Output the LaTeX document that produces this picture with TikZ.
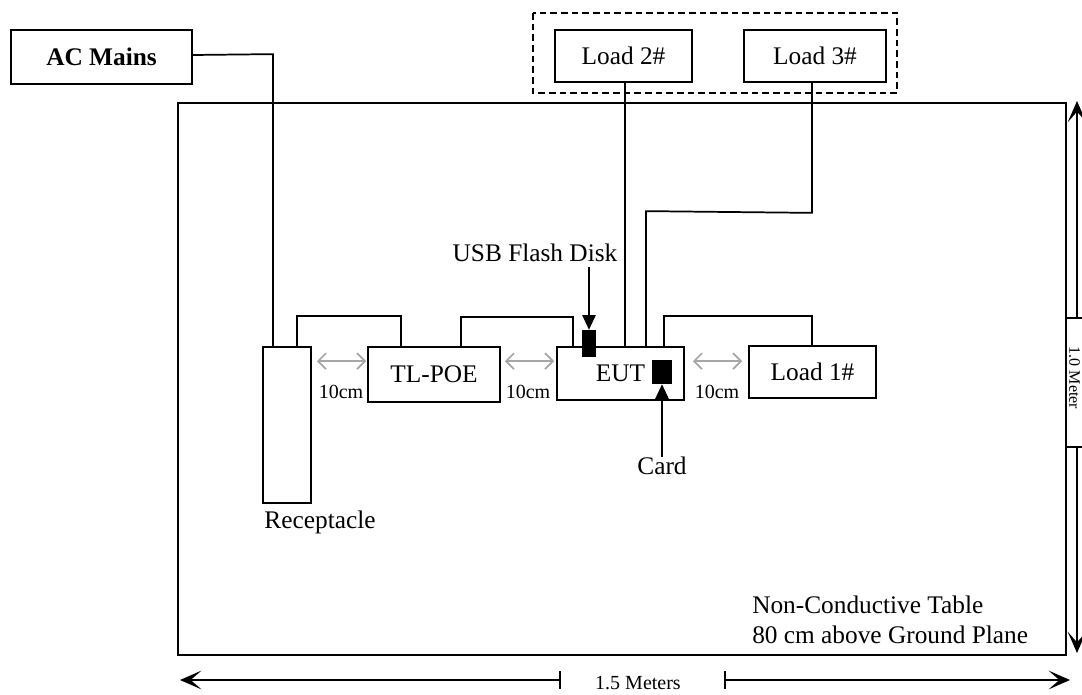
\documentclass[tikz,border=0pt]{standalone}
\usepackage{fontspec}
\setmainfont{Liberation Serif}
\usetikzlibrary{arrows.meta,calc}
\tikzset{
  box/.style={draw, line width=1.3pt, inner sep=0pt, font=\fontsize{19}{22}\selectfont},
  wire/.style={draw, line width=1.3pt},
  garrow/.style={draw=gray!70, line width=1.3pt, {Straight Barb[length=6pt,width=12pt]}-{Straight Barb[length=6pt,width=12pt]}},
  barrow/.style={draw, line width=1.3pt, -{Triangle[length=11pt,width=10pt]}},
  dimarrow/.style={draw, line width=1.3pt, -{Stealth[length=16pt,width=14pt,inset=8pt]}},
  lbl/.style={inner sep=0pt, font=\fontsize{19}{22}\selectfont},
  small/.style={inner sep=0pt, font=\fontsize{15}{17}\selectfont},
}
\begin{document}
\begin{tikzpicture}[x=0.75pt,y=-0.75pt]
\useasboundingbox (0,0) rectangle (1082,695);
% table
\draw[line width=1.4pt] (178,103) rectangle (1066,655);
% dashed group
\draw[line width=1.3pt, dash pattern=on 5pt off 3pt] (533,13) rectangle (897,93);
% boxes
\node[box, minimum width=181*0.75pt, minimum height=54*0.75pt, font=\fontsize{19}{22}\selectfont\bfseries] (ac) at (101.5,57) {AC Mains};
\node[box, minimum width=137*0.75pt, minimum height=52*0.75pt] (load2) at (623.5,56) {Load 2\#};
\node[box, minimum width=142*0.75pt, minimum height=52*0.75pt] (load3) at (815,56) {Load 3\#};
\node[box, minimum width=48*0.75pt, minimum height=156*0.75pt] (rec) at (287,425) {};
\node[box, minimum width=132*0.75pt, minimum height=55*0.75pt] (tlpoe) at (434,374.5) {TL-POE};
\node[box, minimum width=127*0.75pt, minimum height=53*0.75pt] (eut) at (620.5,373.5) {EUT\hspace{10pt}};
\node[box, minimum width=127*0.75pt, minimum height=52*0.75pt] (load1) at (812.5,372) {Load 1\#};
% black blocks
\node[fill=black, inner sep=0pt, minimum width=14*0.75pt, minimum height=27*0.75pt] (usb) at (589,343.5) {};
\node[fill=black, inner sep=0pt, minimum width=20*0.75pt, minimum height=24*0.75pt] (card) at (662,372) {};
% labels
\node[lbl] (usblbl) at (535,253) {USB Flash Disk};
\node[lbl] (cardlbl) at (662,466) {Card};
\node[lbl] (reclbl) at (320,522) {Receptacle};
\node[lbl, anchor=west, align=left, font=\fontsize{19}{22.5}\selectfont] (tbl) at (752,620) {Non-Conductive Table\\80 cm above Ground Plane};
\node[small] (d1) at (341,392) {10cm};
\node[small] (d2) at (528,392) {10cm};
\node[small] (d3) at (717,392) {10cm};
% wires
\draw[wire] ($(ac.east)+(0,-2)$) -- ($(rec.north)+(-14,-292)$) -- ($(rec.north)+(-14,0)$);
\draw[wire] ($(rec.north)+(10,0)$) -- ($(rec.north)+(10,-30)$) -- ($(tlpoe.north)+(-33,-30)$) -- ($(tlpoe.north)+(-33,0)$);
\draw[wire] ($(tlpoe.north)+(27,0)$) -- ($(tlpoe.north)+(27,-29)$) -- ($(eut.north)+(-47.5,-29)$) -- ($(eut.north)+(-47.5,0)$);
\draw[wire] ($(eut.north)+(43.5,0)$) -- ($(eut.north)+(43.5,-30)$) -- ($(load1.north)+(-0.5,-29)$) -- ($(load1.north)+(-0.5,0)$);
\draw[wire] ($(load2.south)+(1.5,0)$) -- ($(eut.north)+(4.5,0)$);
\draw[wire] ($(load3.south)+(-3,0)$) -- ($(load3.south)+(-3,130)$) -- ($(eut.north)+(25.5,-135)$) -- ($(eut.north)+(25.5,0)$);
% gray spacing arrows
\draw[garrow] ($(rec.north east)+(5,15)$) -- ($(tlpoe.north west)+(-1,15)$);
\draw[garrow] ($(tlpoe.north east)+(4,15)$) -- ($(eut.north west)+(-2,15)$);
\draw[garrow] ($(eut.north east)+(8,15)$) -- ($(load1.north west)+(-6,16)$);
% pointer arrows
\draw[barrow] (usb.north |- 0,267) -- (usb.north);
\draw[barrow] (card.south |- cardlbl.north) -- (card.south);
% right dimension
\coordinate (rt) at (1077,101);
\coordinate (rb) at (1077,653);
\draw[dimarrow] (1077,318) -- (rt);
\draw[dimarrow] (1077,447) -- (rb);
\draw[line width=1.3pt] (1084,318) -- (1066,318) -- (1066,447) -- (1084,447);
\node[inner sep=0pt, rotate=-90, font=\fontsize{12}{14}\selectfont] (meter) at (1074.5,378) {1.0 Meter};
% bottom dimension
\coordinate (bl) at (180,680);
\coordinate (br) at (1070,680);
\node[small] (blbl) at (638,683) {1.5 Meters};
\draw[dimarrow] (560,680) -- (bl);
\draw[dimarrow] (725,680) -- (br);
\draw[line width=1.3pt] (560,671) -- (560,689);
\draw[line width=1.3pt] (725,671) -- (725,689);
\end{tikzpicture}
\end{document}
